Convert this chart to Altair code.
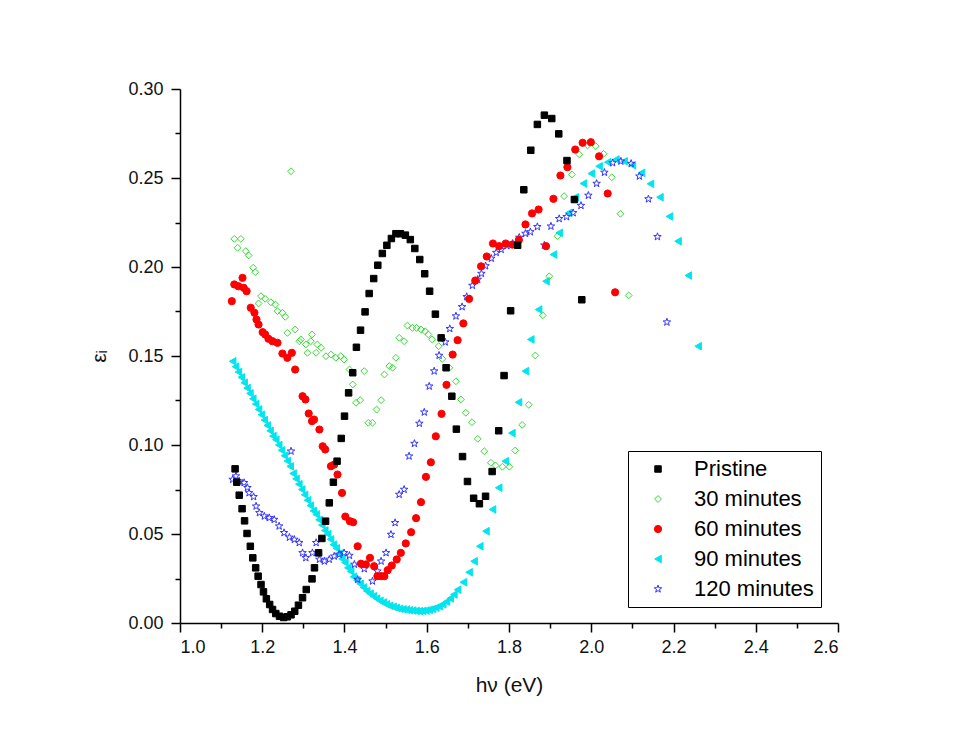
import altair as alt
import pandas as pd

series = ["Pristine", "30 minutes", "60 minutes", "90 minutes", "120 minutes"]
strokes = ["#000000", "#33dd33", "#ff0000", "#00e5ee", "#3333ff"]
fills = ["#000000", "transparent", "#ff0000", "#00e5ee", "transparent"]
sizes = [42, 62, 40, 58, 80]
star = ("M0,-1L0.235,-0.324L0.951,-0.309L0.38,0.124L0.588,0.809L0,0.4"
        "L-0.588,0.809L-0.38,0.124L-0.951,-0.309L-0.235,-0.324Z")
shapes = ["square", "diamond", "circle", "triangle-left", star]

x_ticks = [1.0, 1.1, 1.2, 1.3, 1.4, 1.5, 1.6, 1.7, 1.8, 1.9, 2.0, 2.1, 2.2, 2.3, 2.4, 2.5, 2.6]
y_ticks = [0.0, 0.025, 0.05, 0.075, 0.1, 0.125, 0.15, 0.175, 0.2, 0.225, 0.25, 0.275, 0.3]

pristine_x = [1.134,1.138,1.144,1.151,1.157,1.163,1.171,1.177,1.184,1.190,
              1.197,1.203,1.210,1.218,1.225,1.233,1.242,1.252,1.261,1.270,
              1.279,1.288,1.298,1.307,1.321,1.327,1.337,1.345,1.354,1.363,
              1.373,1.382,1.392,1.400,1.410,1.420,1.429,1.439,1.450,1.460,
              1.471,1.481,1.492,1.503,1.514,1.525,1.536,1.548,1.560,1.571,
              1.583,1.595,1.607,1.621,1.635,1.647,1.661,1.672,1.687,1.699,
              1.714,1.728,1.743,1.759,1.775,1.788,1.804,1.821,1.836,1.853,
              1.869,1.886,1.904,1.921,1.941,1.959,1.977]
pristine_y = [0.0866,0.0791,0.0718,0.0642,0.0574,0.0503,0.0431,0.0366,0.0310,0.0263,
              0.0216,0.0175,0.0136,0.0104,0.0076,0.0053,0.0038,0.0031,0.0035,0.0046,
              0.0066,0.0100,0.0142,0.0188,0.0248,0.0310,0.0394,0.0475,0.0572,0.0675,
              0.0791,0.0909,0.1037,0.1162,0.1293,0.1406,0.1549,0.1645,0.1748,0.1851,
              0.1935,0.2010,0.2076,0.2122,0.2160,0.2187,0.2187,0.2179,0.2154,0.2104,
              0.2042,0.1962,0.1864,0.1735,0.1602,0.1434,0.1274,0.1089,0.0935,0.0795,
              0.0701,0.0670,0.0712,0.0851,0.1080,0.1390,0.1754,0.2122,0.2434,0.2656,
              0.2801,0.2853,0.2834,0.2748,0.2598,0.2379,0.1816]

m30_x = [1.132,1.140,1.148,1.160,1.167,1.178,1.183,1.191,1.197,1.207,
         1.221,1.232,1.237,1.249,1.256,1.261,1.270,1.280,1.290,1.294,
         1.306,1.310,1.318,1.321,1.331,1.334,1.343,1.355,1.367,1.379,
         1.391,1.399,1.412,1.420,1.428,1.438,1.448,1.458,1.468,1.478,
         1.489,1.497,1.509,1.517,1.525,1.533,1.545,1.553,1.565,1.575,
         1.586,1.596,1.604,1.613,1.629,1.638,1.655,1.671,1.683,1.695,
         1.710,1.724,1.740,1.756,1.767,1.784,1.801,1.815,1.832,1.848,
         1.864,1.882,1.898,1.918,1.934,1.953,1.971,1.991,2.011,2.030,
         2.050,2.071,2.091]
m30_y = [0.2158,0.2108,0.2158,0.2089,0.2065,0.1996,0.1971,0.1795,0.1836,0.1821,
         0.1802,0.1789,0.1752,0.1743,0.1720,0.1630,0.2538,0.1649,0.1583,0.1593,
         0.1565,0.1518,0.1583,0.1621,0.1518,0.1565,0.1546,0.1499,0.1508,0.1490,
         0.1499,0.1480,0.1424,0.1340,0.1237,0.1252,0.1415,0.1125,0.1125,0.1199,
         0.1252,0.1396,0.1443,0.1434,0.1490,0.1602,0.1583,0.1671,0.1658,0.1658,
         0.1649,0.1639,0.1621,0.1593,0.1555,0.1484,0.1434,0.1358,0.1256,0.1181,
         0.1128,0.1035,0.0965,0.0900,0.0885,0.0878,0.0878,0.0969,0.1113,0.1226,
         0.1503,0.1728,0.1948,0.2173,0.2398,0.2520,0.2632,0.2683,0.2679,0.2636,
         0.2504,0.2299,0.1840]

m60_x = [1.126,1.132,1.142,1.152,1.155,1.162,1.172,1.181,1.186,1.191,
         1.201,1.207,1.215,1.225,1.237,1.249,1.261,1.272,1.280,1.298,
         1.305,1.313,1.321,1.326,1.339,1.347,1.353,1.367,1.375,1.383,
         1.394,1.402,1.413,1.421,1.432,1.440,1.452,1.462,1.472,1.480,
         1.489,1.497,1.505,1.515,1.527,1.537,1.549,1.562,1.574,1.586,
         1.598,1.610,1.622,1.636,1.648,1.663,1.675,1.689,1.703,1.718,
         1.732,1.746,1.761,1.776,1.792,1.808,1.824,1.840,1.856,1.872,
         1.890,1.908,1.925,1.942,1.961,1.979,1.999,2.019,2.040,2.058]
m60_y = [0.1808,0.1902,0.1892,0.1939,0.1883,0.1864,0.1771,0.1743,0.1705,0.1677,
         0.1634,0.1621,0.1597,0.1583,0.1574,0.1514,0.1490,0.1518,0.1424,0.1274,
         0.1256,0.1177,0.1134,0.1143,0.1087,0.0993,0.0975,0.0881,0.0890,0.0834,
         0.0731,0.0598,0.0572,0.0566,0.0431,0.0333,0.0329,0.0366,0.0319,0.0263,
         0.0263,0.0263,0.0297,0.0323,0.0357,0.0394,0.0447,0.0510,0.0589,0.0679,
         0.0821,0.0903,0.1049,0.1175,0.1338,0.1508,0.1589,0.1683,0.1821,0.1924,
         0.2004,0.2059,0.2132,0.2117,0.2132,0.2126,0.2152,0.2239,0.2301,0.2323,
         0.2117,0.2383,0.2514,0.2561,0.2660,0.2698,0.2701,0.2622,0.2413,0.1858]

m90_x = [1.128,1.135,1.142,1.149,1.156,1.163,1.170,1.177,1.184,1.191,
         1.198,1.205,1.212,1.219,1.226,1.233,1.240,1.247,1.254,1.261,
         1.268,1.275,1.282,1.289,1.296,1.303,1.310,1.317,1.324,1.331,
         1.338,1.345,1.352,1.359,1.366,1.373,1.380,1.387,1.394,1.401,
         1.408,1.415,1.422,1.430,1.438,1.446,1.454,1.462,1.470,1.478,
         1.486,1.494,1.502,1.510,1.518,1.526,1.534,1.542,1.550,1.558,
         1.566,1.574,1.582,1.590,1.598,1.606,1.614,1.622,1.630,1.639,
         1.648,1.657,1.666,1.675,1.689,1.703,1.715,1.729,1.744,1.760,
         1.775,1.791,1.807,1.823,1.840,1.853,1.872,1.890,1.908,1.922,
         1.945,1.961,1.981,2.000,2.019,2.040,2.060,2.080,2.100,2.122,
         2.144,2.167,2.190,2.211,2.236,2.260]
m90_y = [0.147,0.144,0.141,0.138,0.135,0.132,0.129,0.126,0.123,0.120,
         0.117,0.114,0.111,0.108,0.105,0.103,0.100,0.097,0.094,0.091,
         0.088,0.084,0.081,0.078,0.075,0.072,0.069,0.066,0.063,0.061,
         0.058,0.055,0.052,0.050,0.047,0.044,0.042,0.039,0.036,0.034,
         0.031,0.029,0.026,0.024,0.022,0.020,0.018,0.0165,0.015,0.0137,
         0.0125,0.0115,0.0105,0.0097,0.0091,0.0085,0.0080,0.0077,0.0075,0.0072,
         0.0070,0.0068,0.0067,0.0068,0.0070,0.0074,0.0079,0.0086,0.0094,0.0105,
         0.0120,0.0138,0.0160,0.0187,0.0229,0.0285,0.0347,0.0431,0.0516,0.0638,
         0.0760,0.0909,0.1067,0.1240,0.1415,0.1593,0.1761,0.1920,0.2070,0.2192,
         0.2304,0.2392,0.2469,0.2525,0.2566,0.2589,0.2604,0.2594,0.2572,0.2529,
         0.2467,0.2392,0.2284,0.2145,0.1952,0.1555]

m120_x = [1.128,1.136,1.144,1.156,1.164,1.168,1.179,1.185,1.193,1.205,
          1.217,1.229,1.241,1.253,1.266,1.270,1.278,1.290,1.298,1.306,
          1.322,1.331,1.339,1.351,1.363,1.375,1.387,1.399,1.412,1.424,
          1.432,1.448,1.468,1.480,1.489,1.501,1.513,1.523,1.533,1.545,
          1.557,1.570,1.582,1.594,1.606,1.618,1.630,1.645,1.656,1.671,
          1.686,1.697,1.711,1.724,1.733,1.743,1.757,1.769,1.781,1.795,
          1.809,1.825,1.840,1.852,1.869,1.886,1.902,1.922,1.940,1.956,
          1.975,1.993,2.013,2.032,2.052,2.072,2.097,2.117,2.139,2.161,
          2.184]
m120_y = [0.0806,0.0825,0.0797,0.0788,0.0760,0.0731,0.0709,0.0656,0.0619,0.0600,
          0.0591,0.0581,0.0544,0.0507,0.0481,0.0965,0.0469,0.0451,0.0394,0.0366,
          0.0394,0.0451,0.0357,0.0347,0.0357,0.0375,0.0385,0.0394,0.0379,0.0329,
          0.0244,0.0304,0.0235,0.0291,0.0347,0.0394,0.0497,0.0563,0.0722,0.0750,
          0.0937,0.1008,0.1121,0.1184,0.1330,0.1415,0.1503,0.1578,0.1653,0.1724,
          0.1776,0.1833,0.1896,0.1930,0.1963,0.2006,0.2048,0.2081,0.2098,0.2119,
          0.2132,0.2166,0.2188,0.2197,0.2226,0.2122,0.2229,0.2271,0.2282,0.2304,
          0.2345,0.2402,0.2469,0.2531,0.2585,0.2594,0.2581,0.2510,0.2382,0.2170,
          0.1690]

groups = [
    ("90 minutes", m90_x, m90_y),
    ("120 minutes", m120_x, m120_y),
    ("30 minutes", m30_x, m30_y),
    ("60 minutes", m60_x, m60_y),
    ("Pristine", pristine_x, pristine_y),
]
rows = []
for name, xs, ys in groups:
    for a, b in zip(xs, ys):
        rows.append({"hv": a, "eps": b, "series": name})
df = pd.DataFrame(rows)

font = "Liberation Sans"

legend = alt.Legend(
    orient="none", legendX=448, legendY=362,
    strokeColor="#000000", fillColor="white", padding=7,
    symbolOffset=12, labelOffset=25, rowPadding=8,
    labelFont=font, labelFontSize=22, labelColor="#000000",
    symbolStrokeWidth=1,
    labelExpr="datum.label + '\u00a0\u00a0\u00a0\u00a0\u00a0\u00a0'",
)

xmajor = "round(datum.value*10) % 2 === 0"
ymajor = "round(datum.value*1000) % 50 === 0"

chart = alt.Chart(df).mark_point(strokeWidth=1, opacity=1).encode(
    x=alt.X("hv:Q", title="hν (eV)",
            scale=alt.Scale(domain=[1.0, 2.6], nice=False, zero=False),
            axis=alt.Axis(values=x_ticks,
                          labelExpr=f"{xmajor} ? format(datum.value, '.1f') : ''",
                          tickSize={"condition": {"test": xmajor, "value": 9}, "value": 5},
                          labelPadding=6, titlePadding=18)),
    y=alt.Y("eps:Q", title="εᵢ",
            scale=alt.Scale(domain=[0.0, 0.30], nice=False),
            axis=alt.Axis(values=y_ticks,
                          labelExpr=f"{ymajor} ? format(datum.value, '.2f') : ''",
                          tickSize={"condition": {"test": ymajor, "value": 9}, "value": 5},
                          labelPadding=8, titlePadding=18)),
    stroke=alt.Stroke("series:N", title=None,
                      scale=alt.Scale(domain=series, range=strokes), legend=legend),
    fill=alt.Fill("series:N", title=None,
                  scale=alt.Scale(domain=series, range=fills), legend=legend),
    shape=alt.Shape("series:N", title=None,
                    scale=alt.Scale(domain=series, range=shapes), legend=legend),
    size=alt.Size("series:N", title=None,
                  scale=alt.Scale(domain=series, range=sizes), legend=legend),
).properties(
    width=658, height=534,
    autosize=alt.AutoSizeParams(type="none"),
    padding={"left": 172, "top": 81, "right": 110, "bottom": 100},
    background="white",
).configure_view(
    stroke="transparent"
).configure_axis(
    grid=False, domainColor="#000000", domainWidth=1.5,
    tickColor="#000000", tickWidth=1.5,
    labelFont=font, labelFontSize=18, labelColor="#111111",
    titleFont=font, titleFontSize=21, titleFontWeight="normal", titleColor="#111111",
)

chart.save("out.html", embed_options={"renderer": "svg", "actions": False})
